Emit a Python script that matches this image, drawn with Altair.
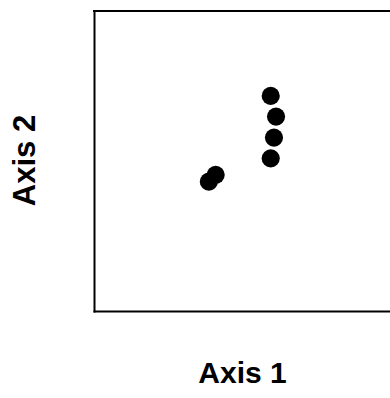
import altair as alt
import pandas as pd

# Ordination scores of the six samples
axis1 = [5.97, 6.15, 6.08, 5.97, 3.88, 4.11]
axis2 = [7.17, 6.48, 5.78, 5.09, 4.31, 4.54]

df = pd.DataFrame({"axis1": axis1, "axis2": axis2})

W, H = 296, 300
FONT = "Liberation Sans"

points = alt.Chart(df).mark_circle(size=330, color="black", opacity=1).encode(
    x=alt.X(
        "axis1:Q",
        scale=alt.Scale(domain=[0, 10], nice=False, zero=False),
        axis=alt.Axis(
            title="Axis 1", ticks=False, labels=False, grid=False,
            domainColor="black", domainWidth=2, domainCap="square",
            titleFont=FONT, titleFontSize=30, titleFontWeight="bold",
            titleColor="black", titleX=148, titleY=62,
            titleAlign="center", titleBaseline="middle",
        ),
    ),
    y=alt.Y(
        "axis2:Q",
        scale=alt.Scale(domain=[0, 10], nice=False, zero=False),
        axis=alt.Axis(
            title="Axis 2", ticks=False, labels=False, grid=False,
            domainColor="black", domainWidth=2, domainCap="square",
            titleFont=FONT, titleFontSize=31, titleFontWeight="bold",
            titleColor="black", titleX=-69, titleY=149, titleAngle=-90,
            titleAlign="center", titleBaseline="middle",
        ),
    ),
)

# Top edge of the frame
top_edge = alt.Chart(df).mark_rule(color="black", strokeWidth=2, strokeCap="square").encode(
    x=alt.value(0), x2=alt.value(W), y=alt.value(0)
)

chart = (
    alt.layer(points, top_edge)
    .properties(
        width=W,
        height=H,
        autosize=alt.AutoSizeParams(type="none"),
        padding={"left": 94, "top": 11, "right": 0, "bottom": 87},
        background="white",
    )
    .configure_view(stroke=None)
)

chart.save("out.html", embed_options={"renderer": "svg", "actions": False})
